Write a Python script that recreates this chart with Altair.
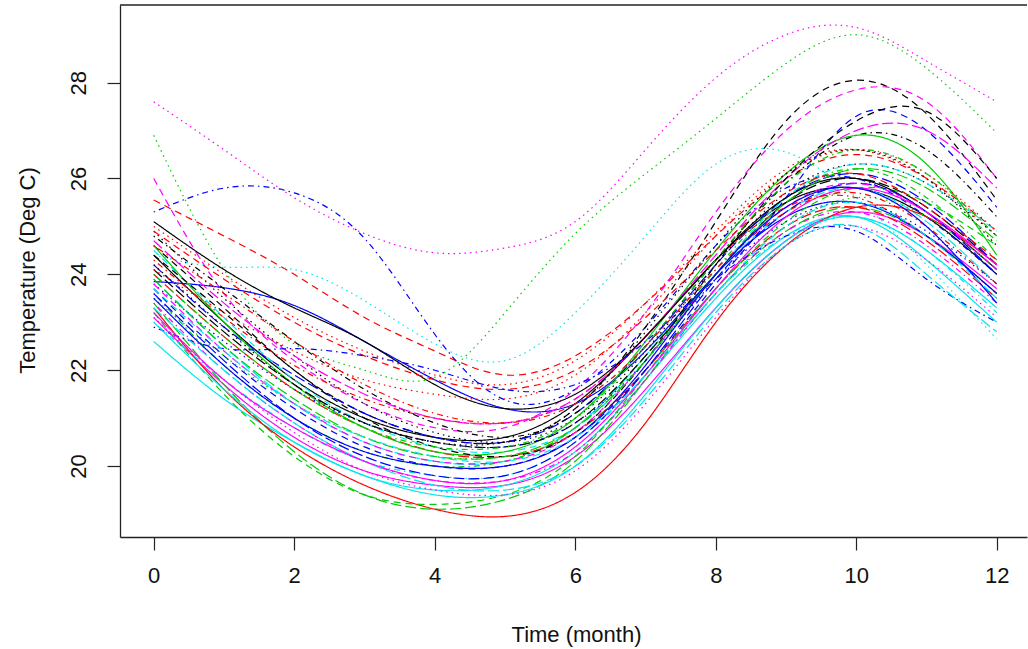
import altair as alt
import pandas as pd

# ---- data (temperature, Deg C, at months 0..12) ----
months = [0, 1, 2, 3, 4, 5, 6, 7, 8, 9, 10, 11, 12]

s01 = [24.4, 23.0, 21.8, 21.0, 20.6, 20.6, 21.3, 22.7, 24.3, 25.5, 25.8, 25.2, 24.0]
s02 = [25.55, 24.8, 24.0, 23.1, 22.4, 21.9, 22.3, 23.4, 24.8, 26.0, 26.5, 26.0, 24.9]
s03 = [26.9, 24.1, 22.55, 22.0, 21.85, 23.2, 24.85, 26.1, 27.25, 28.4, 29.0, 28.3, 26.95]
s04 = [25.3, 25.8, 25.7, 24.75, 22.75, 21.38, 21.6, 22.9, 24.6, 25.8, 26.0, 25.2, 24.0]
s05 = [23.9, 22.5, 21.3, 20.5, 20.1, 20.1, 20.8, 22.3, 24.0, 25.3, 25.8, 25.1, 23.8]
s06 = [23.1, 21.7, 20.6, 19.9, 19.6, 19.6, 20.2, 21.6, 23.3, 24.7, 25.3, 24.8, 23.7]
s07 = [24.6, 23.3, 22.0, 21.1, 20.6, 20.5, 21.2, 22.9, 25.1, 27.2, 28.05, 27.35, 25.55]
s08 = [25.0, 24.0, 23.1, 22.4, 21.9, 21.7, 22.2, 23.4, 24.9, 26.2, 26.6, 26.0, 24.8]
s09 = [23.6, 22.1, 21.0, 20.3, 20.0, 20.1, 20.8, 22.3, 24.1, 25.6, 26.2, 25.6, 24.3]
s10 = [24.2, 22.9, 21.9, 21.1, 20.6, 20.5, 21.1, 22.5, 24.2, 25.6, 26.1, 25.5, 24.2]
s11 = [22.6, 21.4, 20.5, 19.8, 19.5, 19.6, 20.3, 21.8, 23.5, 24.8, 25.2, 24.3, 23.0]
s12 = [26.0, 23.6, 22.2, 21.3, 20.8, 20.8, 21.6, 23.2, 25.3, 27.0, 27.85, 27.6, 26.0]
s13 = [24.9, 23.5, 22.3, 21.3, 20.7, 20.5, 21.0, 22.4, 24.2, 25.7, 26.3, 25.9, 24.8]
s14 = [24.3, 23.1, 22.1, 21.4, 21.0, 20.9, 21.4, 22.7, 24.3, 25.4, 25.6, 24.8, 23.6]
s15 = [23.4, 21.7, 20.3, 19.4, 19.1, 19.3, 20.1, 21.8, 23.6, 24.9, 25.4, 24.8, 23.6]
s16 = [23.85, 23.72, 23.35, 22.6, 21.8, 21.2, 21.3, 22.4, 24.0, 25.2, 25.5, 24.8, 23.6]
s17 = [24.5, 23.1, 21.8, 20.9, 20.4, 20.3, 20.8, 22.2, 24.0, 25.6, 26.3, 25.9, 24.9]
s18 = [27.6, 26.6, 25.6, 24.85, 24.45, 24.55, 25.1, 26.6, 28.1, 29.0, 29.15, 28.45, 27.6]
s19 = [24.8, 23.7, 22.6, 21.6, 20.9, 20.6, 21.1, 22.5, 24.3, 25.9, 26.9, 26.6, 25.2]
s20 = [24.0, 22.7, 21.6, 20.8, 20.3, 20.2, 20.7, 22.0, 23.7, 25.0, 25.4, 24.7, 23.5]
s21 = [24.6, 23.0, 21.7, 20.8, 20.3, 20.3, 21.0, 22.6, 24.5, 26.1, 26.9, 26.3, 24.4]
s22 = [23.7, 22.3, 21.2, 20.4, 20.0, 20.0, 20.6, 22.0, 23.8, 25.6, 27.3, 27.0, 25.4]
s23 = [24.4, 24.15, 24.1, 23.45, 22.55, 22.2, 23.2, 24.8, 26.3, 26.55, 25.6, 24.2, 22.65]
s24 = [23.4, 22.0, 20.9, 20.1, 19.7, 19.7, 20.3, 21.8, 23.6, 24.9, 25.3, 24.6, 23.4]
s25 = [24.1, 22.8, 21.7, 20.9, 20.5, 20.4, 20.9, 22.3, 24.0, 25.5, 26.0, 25.4, 24.2]
s26 = [23.3, 21.6, 20.4, 19.6, 19.1, 18.95, 19.45, 20.9, 23.0, 24.6, 25.4, 25.2, 24.2]
s27 = [23.2, 21.5, 20.2, 19.4, 19.2, 19.4, 20.2, 21.9, 23.7, 25.1, 25.8, 25.5, 24.6]
s28 = [23.8, 22.6, 21.6, 20.9, 20.5, 20.4, 20.9, 22.2, 23.9, 25.1, 25.5, 24.9, 23.8]
s29 = [23.0, 21.8, 20.8, 20.1, 19.8, 19.8, 20.5, 21.9, 23.6, 24.8, 25.2, 24.5, 23.2]
s30 = [24.7, 23.4, 22.3, 21.5, 21.0, 20.9, 21.4, 22.7, 24.4, 26.0, 27.0, 27.0, 25.8]
s31 = [25.1, 24.1, 23.3, 22.6, 21.7, 21.2, 21.5, 22.7, 24.3, 25.6, 26.0, 25.3, 24.1]
s32 = [24.9, 23.9, 23.0, 22.3, 21.8, 21.6, 22.0, 23.1, 24.5, 25.7, 26.1, 25.4, 24.3]
s33 = [23.5, 22.3, 21.3, 20.6, 20.2, 20.2, 20.7, 22.0, 23.7, 25.0, 25.6, 25.2, 24.1]
s34 = [22.9, 22.45, 22.45, 22.3, 22.0, 21.6, 21.7, 22.6, 23.9, 24.8, 24.9, 23.9, 23.0]
s35 = [23.3, 22.0, 20.9, 20.1, 19.6, 19.5, 20.0, 21.4, 23.2, 24.6, 25.0, 24.0, 22.8]
s36 = [23.2, 21.8, 20.8, 20.1, 19.7, 19.7, 20.4, 21.9, 23.7, 25.2, 25.8, 25.3, 24.2]
s37 = [24.4, 23.2, 22.0, 21.0, 20.4, 20.2, 20.7, 22.2, 24.2, 26.0, 27.2, 27.4, 26.0]
s38 = [24.1, 23.2, 22.4, 21.8, 21.5, 21.4, 21.9, 23.2, 24.8, 26.1, 26.6, 26.1, 24.9]
s39 = [24.0, 22.7, 21.6, 20.8, 20.4, 20.4, 21.0, 22.5, 24.3, 25.9, 26.6, 26.1, 24.8]
s40 = [23.6, 22.2, 21.0, 20.2, 19.8, 19.8, 20.5, 22.0, 23.9, 25.3, 25.9, 25.3, 24.0]
s41 = [23.0, 21.6, 20.5, 19.8, 19.4, 19.4, 20.0, 21.5, 23.3, 24.7, 25.2, 24.5, 23.3]
s42 = [23.8, 22.4, 21.3, 20.5, 20.1, 20.1, 20.7, 22.2, 24.0, 25.4, 25.9, 25.3, 24.1]
s43 = [24.2, 22.9, 21.7, 20.9, 20.5, 20.5, 21.2, 22.8, 24.6, 26.1, 26.6, 26.0, 24.6]
s44 = [24.6, 23.6, 22.6, 21.7, 21.1, 20.9, 21.3, 22.5, 24.1, 25.3, 25.7, 25.0, 23.8]
s45 = [23.9, 22.5, 21.4, 20.6, 20.2, 20.2, 20.8, 22.2, 24.0, 25.5, 26.2, 25.8, 24.7]
s46 = [23.5, 22.1, 21.0, 20.3, 20.0, 20.0, 20.6, 22.1, 24.0, 25.4, 25.8, 25.0, 23.4]
s47 = [23.7, 22.4, 21.3, 20.6, 20.2, 20.1, 20.6, 21.9, 23.6, 25.0, 25.5, 24.8, 23.5]
s48 = [23.1, 21.8, 20.7, 19.9, 19.5, 19.4, 19.9, 21.3, 23.1, 24.6, 25.0, 24.3, 23.1]

curves = [s01, s02, s03, s04, s05, s06, s07, s08, s09, s10, s11, s12,
          s13, s14, s15, s16, s17, s18, s19, s20, s21, s22, s23, s24,
          s25, s26, s27, s28, s29, s30, s31, s32, s33, s34, s35, s36,
          s37, s38, s39, s40, s41, s42, s43, s44, s45, s46, s47, s48]

# R matplot defaults: col = 1:6, lty = 1:5 (cycled)
palette = ["#000000", "#FF0000", "#00CD00", "#0000FF", "#00E5EE", "#FF00FF"]
dash_cycle = [[1, 0], [7, 5], [1.5, 4], [1.5, 4, 6, 4], [11, 4]]

x_ticks = [0, 2, 4, 6, 8, 10, 12]
y_ticks = [20, 22, 24, 26, 28]

names = ["s%02d" % (i + 1) for i in range(len(curves))]
colors = [palette[i % 6] for i in range(len(curves))]
dashes = [dash_cycle[i % 5] for i in range(len(curves))]

rows = []
for name, vals in zip(names, curves):
    for m, v in zip(months, vals):
        rows.append({"series": name, "month": m, "temp": v})
df = pd.DataFrame(rows)

FONT = "Liberation Sans"
W, H = 907, 532
AX = "#222222"

lines = alt.Chart(df).mark_line(interpolate="natural", strokeWidth=1.2, clip=True).encode(
    x=alt.X("month:Q",
            scale=alt.Scale(domain=[-0.48, 12.43], nice=False, zero=False),
            axis=alt.Axis(values=x_ticks, format="d", grid=False, title="Time (month)",
                          domainColor=AX, domainWidth=1.3, tickColor=AX, tickWidth=1.2,
                          tickSize=13, labelFont=FONT, labelFontSize=22, labelColor="#111111",
                          labelPadding=15, labelFlush=False, labelOverlap=False,
                          titleFont=FONT, titleFontSize=22, titleFontWeight="normal",
                          titleColor="#111111", titleX=456, titleY=97,
                          titleBaseline="middle", titleAlign="center")),
    y=alt.Y("temp:Q",
            scale=alt.Scale(domain=[18.52, 29.62], nice=False, zero=False),
            axis=alt.Axis(values=y_ticks, format="d", grid=False, title="Temperature (Deg C)",
                          domainColor=AX, domainWidth=1.3, tickColor=AX, tickWidth=1.2,
                          tickSize=13, labelFont=FONT, labelFontSize=22, labelColor="#111111",
                          labelAngle=-90, labelAlign="center", labelBaseline="bottom",
                          labelPadding=17, labelFlush=False, labelOverlap=False,
                          titleFont=FONT, titleFontSize=22, titleFontWeight="normal",
                          titleColor="#111111", titleAngle=270, titleX=-93, titleY=265,
                          titleBaseline="middle", titleAlign="center")),
    color=alt.Color("series:N", scale=alt.Scale(domain=names, range=colors), legend=None),
    strokeDash=alt.StrokeDash("series:N", scale=alt.Scale(domain=names, range=dashes), legend=None),
)

top_frame = alt.Chart(pd.DataFrame({"k": [0]})).mark_rule(color=AX, strokeWidth=1.3).encode(
    x=alt.value(0), x2=alt.value(W), y=alt.value(0)
)

chart = alt.layer(lines, top_frame).properties(
    width=W, height=H,
    padding={"left": 120, "top": 5, "right": 1, "bottom": 112},
    autosize="none",
    background="white",
).configure_view(stroke=None)

chart.save("out.html", embed_options={"renderer": "svg", "actions": False})
